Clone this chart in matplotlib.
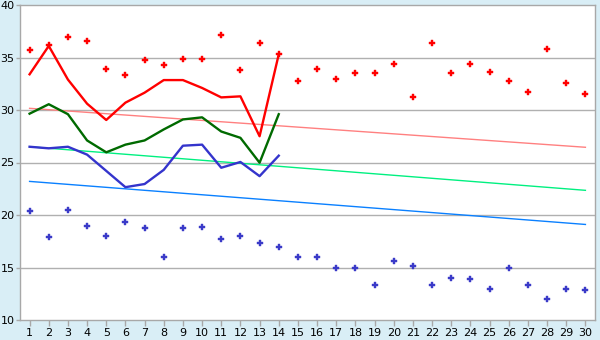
import matplotlib
matplotlib.use("Agg")
import matplotlib.pyplot as plt

days = list(range(1, 31))

red_points = [35.7, 36.2, 37.0, 36.6, 33.9, 33.3, 34.8, 34.3, 34.9, 34.9,
              37.1, 33.8, 36.4, 35.3, 32.8, 33.9, 33.0, 33.5, 33.5, 34.4,
              31.2, 36.4, 33.5, 34.4, 33.6, 32.8, 31.7, 35.8, 32.6, 31.5]
blue_points = [20.4, 17.9, 20.5, 19.0, 18.0, 19.3, 18.8, 16.0, 18.8, 18.9,
               17.7, 18.0, 17.3, 17.0, 16.0, 16.0, 15.0, 15.0, 13.3, 15.6,
               15.1, 13.3, 14.0, 13.9, 13.0, 15.0, 13.3, 12.0, 13.0, 12.9]

line_days = list(range(1, 15))
red_line = [33.4, 36.1, 32.9, 30.6, 29.05, 30.7, 31.65, 32.85, 32.85, 32.1,
            31.2, 31.3, 27.5, 35.3]
green_line = [29.65, 30.55, 29.6, 27.1, 25.97, 26.7, 27.1, 28.15, 29.1, 29.3,
              27.95, 27.35, 24.98, 29.6]
blue_line = [26.5, 26.35, 26.5, 25.75, 24.2, 22.65, 22.95, 24.3, 26.6, 26.7,
             24.5, 25.05, 23.7, 25.65]

trend_days = [1, 30]
trend_red = [30.16, 26.45]
trend_green = [26.5, 22.35]
trend_blue = [23.2, 19.1]

yticks = [10, 15, 20, 25, 30, 35, 40]

fig = plt.figure(figsize=(6, 3.4), dpi=100, facecolor="#D9EEF6")
ax = fig.add_axes([20/600, 1-320/340, 575/600, 315/340])
ax.set_facecolor("white")

for y in [15, 20, 25, 30, 35]:
    ax.axhline(y, color="#B0B0B0", lw=1.0, zorder=1)

ax.plot(trend_days, trend_red, color="#FF8080", lw=1.0, zorder=2)
ax.plot(trend_days, trend_green, color="#00F080", lw=1.0, zorder=2)
ax.plot(trend_days, trend_blue, color="#0A80FF", lw=1.0, zorder=2)

ax.plot(line_days, red_line, color="#FF0000", lw=1.7, zorder=3)
ax.plot(line_days, green_line, color="#006A00", lw=1.7, zorder=3)
ax.plot(line_days, blue_line, color="#3434CC", lw=1.7, zorder=3)

ax.plot(days, red_points, ls="none", marker="P", ms=4.2, color="#FF0000",
        mec="#FF0000", mew=0.3, zorder=4)
ax.plot(days, blue_points, ls="none", marker="P", ms=4.2, color="#3A3AC8",
        mec="#3A3AC8", mew=0.3, zorder=4)

ax.set_xlim(0.5, 30.5)
ax.set_ylim(10, 40)
ax.set_xticks(days)
ax.set_xticklabels([str(d) for d in days])
ax.set_yticks(yticks)
ax.set_yticklabels([str(v) for v in yticks])

for s in ax.spines.values():
    s.set_color("#A8A8A8")
    s.set_linewidth(1.0)

ax.tick_params(axis="x", length=4, width=1, color="#A8A8A8", pad=2,
               labelsize=8, labelcolor="black")
ax.tick_params(axis="y", length=3, width=1, color="#A8A8A8", pad=1,
               labelsize=8, labelcolor="black")

fig.savefig("out.png", dpi=100, facecolor=fig.get_facecolor())
